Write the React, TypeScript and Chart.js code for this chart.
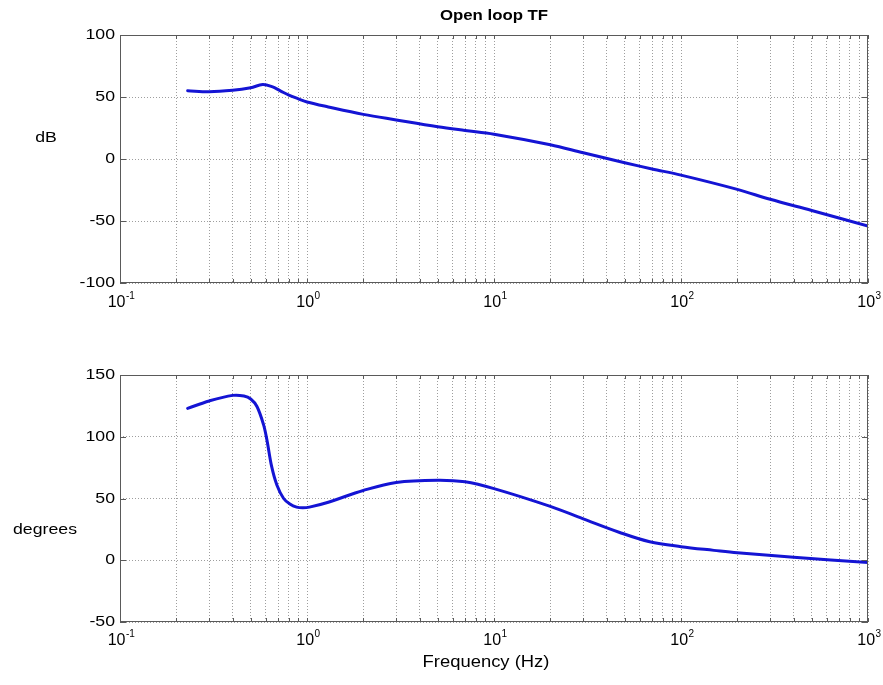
import React, { useEffect, useRef } from 'react';
import { Chart, registerables } from 'chart.js';

Chart.register(...registerables);

// ---------- data ----------
const magFreq = [0.23, 0.3, 0.4, 0.5, 0.58, 0.65, 0.72, 0.8, 0.9, 1.0, 1.3, 2, 3, 5, 7, 10, 20, 30, 50, 70, 100, 200, 300, 500, 1000];
const magDb = [55, 54.2, 55.4, 57.5, 60, 58.3, 55, 51.5, 48.5, 46, 42, 36, 31.5, 26, 23, 20, 11.5, 5, -3, -8, -13, -24.5, -32.5, -41.5, -54];

const phaseFreq = [0.23, 0.3, 0.4, 0.46, 0.5, 0.54, 0.585, 0.61, 0.647, 0.69, 0.75, 0.81, 0.88, 0.95, 1.03, 1.3, 2, 3, 5, 7, 10, 20, 30, 47, 68, 100, 150, 200, 400, 1000];
const phaseDeg = [123, 129, 133.5, 133, 130.6, 124.5, 110, 97.7, 76, 61, 50, 45.5, 43, 42.5, 43, 47, 56.5, 63, 64.8, 63.5, 58, 43.6, 33.5, 22.5, 15, 11, 8, 6, 2.5, -1.9];

const decadeTicks = [0.1, 1, 10, 100, 1000];
const decadeExponents = ['-1', '0', '1', '2', '3'];
const gridFreqs = [
  0.1, 0.2, 0.3, 0.4, 0.5, 0.6, 0.7, 0.8, 0.9,
  1, 2, 3, 4, 5, 6, 7, 8, 9,
  10, 20, 30, 40, 50, 60, 70, 80, 90,
  100, 200, 300, 400, 500, 600, 700, 800, 900,
  1000,
];
const magTicks = [-100, -50, 0, 50, 100];
const phaseTicks = [-50, 0, 50, 100, 150];

const titleText = 'Open loop TF';
const magLabel = 'dB';
const phaseLabel = 'degrees';
const xLabel = 'Frequency (Hz)';

// ---------- style ----------
const FONT = '"Liberation Sans", Arial, Helvetica, sans-serif';
const LINE_COLOR = '#1414d4';
const GRID_COLOR = '#9e9e9e';
const BOX_COLOR = '#5a5a5a';
const SX = 1.18;

function drawText(ctx: CanvasRenderingContext2D, text: string, x: number, y: number, font: string, align: CanvasTextAlign, sx = SX) {
  ctx.save();
  ctx.translate(x, y);
  ctx.scale(sx, 1);
  ctx.font = font;
  ctx.textAlign = align;
  ctx.textBaseline = 'middle';
  ctx.fillStyle = '#000';
  ctx.fillText(text, 0, 0);
  ctx.restore();
}

const bodePlugin = {
  id: 'bode',
  afterDraw(chart: any, _args: any, opts: any) {
    const { ctx, chartArea: a, scales } = chart;
    const xs = scales.x;
    const ys = scales.y;
    ctx.save();
    // inward ticks
    ctx.strokeStyle = BOX_COLOR;
    ctx.lineWidth = 1;
    ctx.beginPath();
    for (const t of xs.ticks) {
      const px = Math.round(xs.getPixelForValue(t.value)) + 0.5;
      ctx.moveTo(px, a.bottom);
      ctx.lineTo(px, a.bottom - 4);
      ctx.moveTo(px, a.top);
      ctx.lineTo(px, a.top + 4);
    }
    for (const t of ys.ticks) {
      const py = Math.round(ys.getPixelForValue(t.value)) + 0.5;
      ctx.moveTo(a.left, py);
      ctx.lineTo(a.left + 6, py);
      ctx.moveTo(a.right, py);
      ctx.lineTo(a.right - 6, py);
    }
    ctx.stroke();
    // box
    ctx.strokeRect(Math.round(a.left) + 0.5, Math.round(a.top) + 0.5, Math.round(a.right - a.left) - 1, Math.round(a.bottom - a.top) - 1);
    ctx.restore();

    // y tick labels
    for (const t of ys.ticks) {
      const py = ys.getPixelForValue(t.value);
      drawText(ctx, String(t.value), a.left - 5, py, `15px ${FONT}`, 'right');
    }
    // x tick labels (10^n)
    const ty = a.bottom + opts.xTickOffset;
    decadeTicks.forEach((v, i) => {
      const px = xs.getPixelForValue(v);
      ctx.save();
      ctx.font = `16px ${FONT}`;
      const w1 = ctx.measureText('10').width;
      ctx.font = `10px ${FONT}`;
      const w2 = ctx.measureText(decadeExponents[i]).width;
      ctx.restore();
      const x0 = px - (w1 + w2) / 2 + 1;
      drawText(ctx, '10', x0, ty, `16px ${FONT}`, 'left', 1);
      drawText(ctx, decadeExponents[i], x0 + w1 + 0.5, ty - 7, `10px ${FONT}`, 'left', 1);
    });
    // y label
    drawText(ctx, opts.yLabel, opts.yLabelX, opts.yLabelY, `15px ${FONT}`, 'center');
    if (opts.title) {
      drawText(ctx, opts.title, (a.left + a.right) / 2, opts.titleY, `bold 15px ${FONT}`, 'center', 1.12);
    }
    if (opts.xLabel) {
      drawText(ctx, opts.xLabel, opts.xLabelX, opts.xLabelY, `16px ${FONT}`, 'center', 1.15);
    }
  },
};

function makeConfig(freq: number[], vals: number[], yMin: number, yMax: number, yTicks: number[], xAxisHeight: number, pluginOpts: any): any {
  return {
    type: 'line',
    data: {
      datasets: [
        {
          data: freq.map((f, i) => ({ x: f, y: vals[i] })),
          borderColor: LINE_COLOR,
          borderWidth: 3,
          pointRadius: 0,
          fill: false,
          tension: 0.35,
          borderJoinStyle: 'round',
          borderCapStyle: 'round',
        },
      ],
    },
    options: {
      animation: false,
      responsive: false,
      maintainAspectRatio: false,
      devicePixelRatio: 1,
      events: [],
      layout: { padding: { top: 35, right: 15, left: 0, bottom: 0 } },
      plugins: {
        legend: { display: false },
        tooltip: { enabled: false },
        title: { display: false },
        bode: pluginOpts,
      },
      scales: {
        x: {
          type: 'logarithmic',
          min: 0.1,
          max: 1000,
          afterBuildTicks: (s: any) => {
            s.ticks = gridFreqs.map((v) => ({ value: v }));
          },
          afterFit: (s: any) => {
            s.height = xAxisHeight;
          },
          ticks: { display: false },
          grid: { color: GRID_COLOR, lineWidth: 1, drawTicks: false },
          border: { display: false, dash: [1, 2] },
        },
        y: {
          type: 'linear',
          min: yMin,
          max: yMax,
          afterBuildTicks: (s: any) => {
            s.ticks = yTicks.map((v) => ({ value: v }));
          },
          afterFit: (s: any) => {
            s.width = 120;
          },
          ticks: { display: false },
          grid: { color: GRID_COLOR, lineWidth: 1, drawTicks: false },
          border: { display: false, dash: [1, 2] },
        },
      },
    },
    plugins: [bodePlugin],
  };
}

export default function App() {
  const topRef = useRef<HTMLCanvasElement>(null);
  const botRef = useRef<HTMLCanvasElement>(null);

  useEffect(() => {
    const c1 = new Chart(
      topRef.current as HTMLCanvasElement,
      makeConfig(magFreq, magDb, -100, 100, magTicks, 57, {
        xTickOffset: 20,
        yLabel: magLabel,
        yLabelX: 46,
        yLabelY: 138,
        title: titleText,
        titleY: 16,
      })
    );
    const c2 = new Chart(
      botRef.current as HTMLCanvasElement,
      makeConfig(phaseFreq, phaseDeg, -50, 150, phaseTicks, 63, {
        xTickOffset: 19,
        yLabel: phaseLabel,
        yLabelX: 45,
        yLabelY: 190,
        xLabel: xLabel,
        xLabelX: 486,
        xLabelY: 323,
      })
    );
    return () => {
      c1.destroy();
      c2.destroy();
    };
  }, []);

  return (
    <div style={{ position: 'absolute', left: 0, top: 0, width: 883, height: 685, background: '#fff' }}>
      <canvas ref={topRef} width={883} height={340} style={{ position: 'absolute', left: 0, top: 0, width: 883, height: 340 }} />
      <canvas ref={botRef} width={883} height={345} style={{ position: 'absolute', left: 0, top: 340, width: 883, height: 345 }} />
    </div>
  );
}
